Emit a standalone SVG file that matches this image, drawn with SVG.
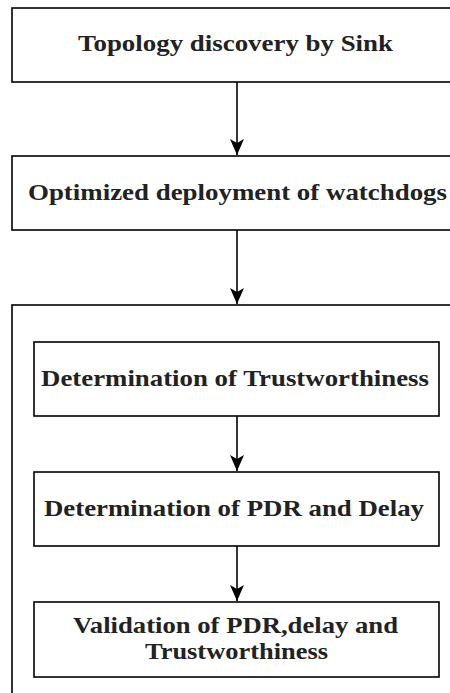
<svg xmlns="http://www.w3.org/2000/svg" width="450" height="693" viewBox="0 0 450 693">
<style>
.box{fill:#fff;stroke:#000;stroke-width:1.6}
.t{font-weight:bold;font-size:23px;fill:#222}
.c{stroke:#000;stroke-width:1.6;fill:none}
</style>
<defs>
<marker id="ah" markerWidth="16" markerHeight="16" viewBox="0 0 16 16" refX="16" refY="8" orient="auto" markerUnits="userSpaceOnUse">
<path d="M0,1 L16,8 L0,15 L4,8 Z" fill="#000"/>
</marker>
</defs>
<rect width="450" height="693" fill="#fff"/>
<g id="container">
<rect class="box" x="12" y="305" width="460" height="400"/>
</g>
<g font-family="Liberation Serif, Times New Roman, Times, serif">
<g id="n1">
<rect class="box" x="12" y="8" width="460" height="74"/>
<text class="t" x="78" y="51" textLength="315" lengthAdjust="spacingAndGlyphs">Topology discovery by Sink</text>
</g>
<g id="n2">
<rect class="box" x="12" y="156" width="460" height="74"/>
<text class="t" x="28" y="200" textLength="419" lengthAdjust="spacingAndGlyphs">Optimized deployment of watchdogs</text>
</g>
<g id="n3">
<rect class="box" x="34" y="342" width="405" height="74"/>
<text class="t" x="41" y="386" textLength="388" lengthAdjust="spacingAndGlyphs">Determination of Trustworthiness</text>
</g>
<g id="n4">
<rect class="box" x="34" y="472" width="405" height="74"/>
<text class="t" x="44" y="516" textLength="380" lengthAdjust="spacingAndGlyphs">Determination of PDR and Delay</text>
</g>
<g id="n5">
<rect class="box" x="34" y="602" width="405" height="75"/>
<text class="t" x="73" y="633" textLength="325" lengthAdjust="spacingAndGlyphs">Validation of PDR,delay and</text>
<text class="t" x="145" y="659" textLength="183" lengthAdjust="spacingAndGlyphs">Trustworthiness</text>
</g>
</g>
<g id="connectors">
<line class="c" x1="237" y1="82" x2="237" y2="155" marker-end="url(#ah)"/>
<line class="c" x1="237" y1="230" x2="237" y2="304" marker-end="url(#ah)"/>
<line class="c" x1="237" y1="416" x2="237" y2="471" marker-end="url(#ah)"/>
<line class="c" x1="237" y1="546" x2="237" y2="601" marker-end="url(#ah)"/>
</g>
</svg>
